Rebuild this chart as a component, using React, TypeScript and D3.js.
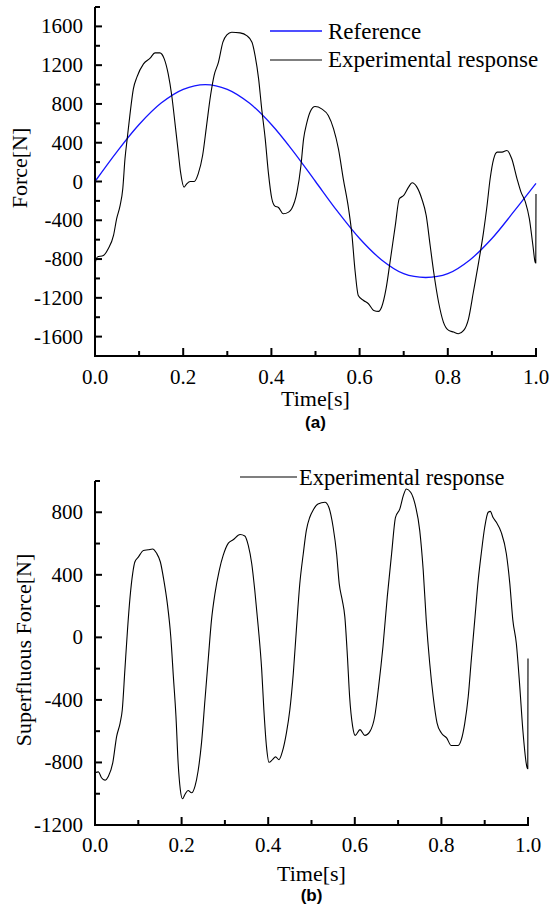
import React from "react";
import * as d3 from "d3";

// ---------- data ----------
const refTime = [0, 0.05, 0.1, 0.15, 0.2, 0.25, 0.3, 0.35, 0.4, 0.45, 0.5, 0.55, 0.6, 0.65, 0.7, 0.75, 0.8, 0.85, 0.9, 0.95, 1.0];
const refForce = [0, 309, 588, 809, 951, 1000, 951, 809, 588, 309, 0, -309, -588, -809, -951, -990, -951, -809, -588, -309, -20];

const expTimeA = [0, 0.005, 0.019, 0.03, 0.042, 0.049, 0.057, 0.063, 0.068, 0.073, 0.079, 0.087, 0.095, 0.11, 0.125, 0.136, 0.147, 0.157, 0.166, 0.174, 0.182, 0.188, 0.194, 0.202, 0.208, 0.216, 0.225, 0.234, 0.244, 0.253, 0.262, 0.27, 0.28, 0.29, 0.299, 0.31, 0.329, 0.344, 0.356, 0.363, 0.371, 0.378, 0.386, 0.393, 0.401, 0.408, 0.416, 0.427, 0.439, 0.446, 0.458, 0.467, 0.473, 0.48, 0.488, 0.499, 0.514, 0.529, 0.541, 0.552, 0.563, 0.575, 0.582, 0.59, 0.597, 0.609, 0.62, 0.632, 0.643, 0.65, 0.66, 0.669, 0.681, 0.69, 0.7, 0.711, 0.719, 0.73, 0.741, 0.751, 0.76, 0.768, 0.779, 0.79, 0.802, 0.813, 0.824, 0.836, 0.847, 0.858, 0.87, 0.881, 0.889, 0.896, 0.904, 0.912, 0.923, 0.934, 0.945, 0.957, 0.966, 0.976, 0.985, 0.993, 0.998, 0.9995, 1.0];
const expForceA = [-850, -780, -763, -694, -557, -385, -247, -75, 234, 440, 680, 956, 1076, 1213, 1272, 1327, 1327, 1265, 1110, 887, 577, 337, 97, -58, -24, 0, 0, 79, 268, 577, 887, 1093, 1231, 1437, 1512, 1540, 1533, 1505, 1437, 1299, 1059, 749, 440, 97, -178, -254, -268, -333, -316, -281, -110, 165, 440, 600, 720, 773, 749, 680, 543, 337, 28, -281, -522, -934, -1175, -1227, -1261, -1330, -1340, -1295, -1106, -831, -453, -178, -144, -58, -13, -58, -178, -350, -660, -934, -1243, -1450, -1536, -1553, -1570, -1536, -1416, -1140, -831, -522, -247, 28, 234, 303, 303, 320, 234, 28, -110, -213, -385, -660, -831, -840, -130];

const expTimeB = [0, 0.008, 0.015, 0.023, 0.031, 0.041, 0.05, 0.058, 0.063, 0.069, 0.075, 0.081, 0.087, 0.092, 0.1, 0.112, 0.123, 0.133, 0.142, 0.151, 0.159, 0.167, 0.175, 0.181, 0.187, 0.192, 0.197, 0.202, 0.208, 0.215, 0.223, 0.231, 0.238, 0.246, 0.254, 0.262, 0.269, 0.277, 0.287, 0.296, 0.308, 0.319, 0.335, 0.346, 0.354, 0.362, 0.369, 0.377, 0.385, 0.39, 0.396, 0.402, 0.41, 0.417, 0.425, 0.433, 0.442, 0.45, 0.458, 0.465, 0.473, 0.481, 0.488, 0.496, 0.504, 0.515, 0.531, 0.54, 0.55, 0.558, 0.564, 0.571, 0.577, 0.583, 0.588, 0.595, 0.601, 0.612, 0.623, 0.635, 0.646, 0.655, 0.665, 0.675, 0.685, 0.694, 0.704, 0.712, 0.719, 0.729, 0.739, 0.75, 0.758, 0.765, 0.773, 0.781, 0.79, 0.8, 0.812, 0.823, 0.838, 0.846, 0.854, 0.862, 0.869, 0.877, 0.885, 0.892, 0.9, 0.908, 0.913, 0.919, 0.927, 0.938, 0.95, 0.958, 0.965, 0.973, 0.981, 0.988, 0.998, 0.9995, 1.0];
const expForceB = [-866, -860, -898, -913, -888, -803, -633, -548, -463, -208, 46, 259, 408, 482, 513, 556, 560, 565, 539, 482, 365, 217, 4, -251, -506, -803, -973, -1032, -1003, -979, -994, -951, -856, -675, -399, -124, 110, 280, 429, 524, 603, 624, 658, 648, 588, 471, 301, 68, -208, -463, -697, -799, -782, -764, -782, -728, -612, -463, -229, 46, 344, 535, 683, 768, 815, 853, 864, 832, 704, 535, 344, 238, 131, -124, -378, -569, -627, -590, -627, -601, -506, -315, -60, 259, 535, 768, 822, 906, 949, 928, 853, 683, 429, 110, -166, -378, -548, -612, -643, -692, -692, -654, -548, -378, -145, 110, 365, 535, 704, 800, 806, 768, 736, 673, 535, 344, 110, -38, -315, -590, -834, -840, -135];

const xTicks = [0, 0.2, 0.4, 0.6, 0.8, 1.0];
const xMinor = [0.1, 0.3, 0.5, 0.7, 0.9];
const yTicksA = [-1600, -1200, -800, -400, 0, 400, 800, 1200, 1600];
const yMinorA = [-1800, -1400, -1000, -600, -200, 200, 600, 1000, 1400, 1800];
const yTicksB = [-1200, -800, -400, 0, 400, 800];
const yMinorB = [-1000, -600, -200, 200, 600, 1000];

const SERIF = "'Liberation Serif', 'Times New Roman', serif";
const SANS = "'Liberation Sans', Arial, sans-serif";
const BLUE = "#1414ff";

type PanelProps = {
  x0: number; x1: number; yTop: number; yBot: number;
  yDomain: [number, number];
  yTicks: number[]; yMinor: number[];
  series: { t: number[]; v: number[]; color: string; width: number; smooth: boolean }[];
  yLabel: string; yLabelX: number; yLabelY: number;
  tickLabelDy: number; timeLabelY: number; tagLabelY: number; tag: string;
};

function Panel(p: PanelProps) {
  const xs = d3.scaleLinear().domain([0, 1]).range([p.x0, p.x1]);
  const ys = d3.scaleLinear().domain(p.yDomain).range([p.yBot, p.yTop]);
  const axisW = 2;
  const fmtX = d3.format(".1f");
  return (
    <g>
      {p.series.map((s, i) => {
        const pts = s.t.map((t, k) => [t, s.v[k]] as [number, number]);
        const line = d3.line<[number, number]>()
          .x((d) => xs(d[0]))
          .y((d) => ys(d[1]))
          .curve(s.smooth ? d3.curveCatmullRom : d3.curveMonotoneX);
        return <path key={i} d={line(pts) || ""} fill="none" stroke={s.color} strokeWidth={s.width} strokeLinejoin="round" />;
      })}
      {/* axes */}
      <line x1={p.x0} x2={p.x0} y1={p.yTop} y2={p.yBot + axisW / 2} stroke="#000" strokeWidth={axisW} />
      <line x1={p.x0 - axisW / 2} x2={p.x1 + 1} y1={p.yBot} y2={p.yBot} stroke="#000" strokeWidth={axisW} />
      {p.yTicks.map((v) => (
        <g key={"yt" + v}>
          <line x1={p.x0} x2={p.x0 + 7} y1={ys(v)} y2={ys(v)} stroke="#000" strokeWidth={2} />
          <text x={p.x0 - 12} y={ys(v) + 7} textAnchor="end" fontFamily={SERIF} fontSize={21}>{v}</text>
        </g>
      ))}
      {p.yMinor.map((v) => (
        <line key={"ym" + v} x1={p.x0} x2={p.x0 + 5} y1={ys(v)} y2={ys(v)} stroke="#000" strokeWidth={2} />
      ))}
      {xTicks.map((t) => (
        <g key={"xt" + t}>
          <line x1={xs(t)} x2={xs(t)} y1={p.yBot} y2={p.yBot - 8} stroke="#000" strokeWidth={2} />
          <text x={xs(t)} y={p.yBot + p.tickLabelDy} textAnchor="middle" fontFamily={SERIF} fontSize={21}>{fmtX(t)}</text>
        </g>
      ))}
      {xMinor.map((t) => (
        <line key={"xm" + t} x1={xs(t)} x2={xs(t)} y1={p.yBot} y2={p.yBot - 5} stroke="#000" strokeWidth={2} />
      ))}
      <text x={(p.x0 + p.x1) / 2} y={p.timeLabelY} textAnchor="middle" fontFamily={SERIF} fontSize={22}>Time[s]</text>
      <text x={(p.x0 + p.x1) / 2} y={p.tagLabelY} textAnchor="middle" fontFamily={SANS} fontWeight="bold" fontSize={17}>{p.tag}</text>
      <text transform={`translate(${p.yLabelX},${p.yLabelY}) rotate(-90)`} textAnchor="middle" fontFamily={SERIF} fontSize={22}>{p.yLabel}</text>
    </g>
  );
}

export default function App() {
  return (
    <svg width={551} height={914} style={{ position: "absolute", left: 0, top: 0, background: "#fff" }}>
      <rect width={551} height={914} fill="#fff" />
      <Panel
        x0={95} x1={536} yTop={7} yBot={356}
        yDomain={[-1800, 1800]} yTicks={yTicksA} yMinor={yMinorA}
        series={[
          { t: refTime, v: refForce, color: BLUE, width: 1.3, smooth: true },
          { t: expTimeA, v: expForceA, color: "#000", width: 1.1, smooth: false },
        ]}
        yLabel="Force[N]" yLabelX={27} yLabelY={168}
        tickLabelDy={28} timeLabelY={406} tagLabelY={428} tag="(a)"
      />
      <Panel
        x0={95} x1={528} yTop={481} yBot={825}
        yDomain={[-1200, 1000]} yTicks={yTicksB} yMinor={yMinorB}
        series={[{ t: expTimeB, v: expForceB, color: "#000", width: 1.1, smooth: false }]}
        yLabel="Superfluous Force[N]" yLabelX={31} yLabelY={650}
        tickLabelDy={27} timeLabelY={881} tagLabelY={901} tag="(b)"
      />
      {/* legends */}
      <line x1={270} x2={322} y1={31} y2={31} stroke={BLUE} strokeWidth={1.3} />
      <text x={328} y={39} fontFamily={SERIF} fontSize={23}>Reference</text>
      <line x1={270} x2={322} y1={60} y2={60} stroke="#000" strokeWidth={1.1} />
      <text x={328} y={67} fontFamily={SERIF} fontSize={23}>Experimental response</text>
      <line x1={240} x2={297} y1={477} y2={477} stroke="#000" strokeWidth={1.1} />
      <text x={299} y={485} fontFamily={SERIF} fontSize={22.5}>Experimental response</text>
    </svg>
  );
}
